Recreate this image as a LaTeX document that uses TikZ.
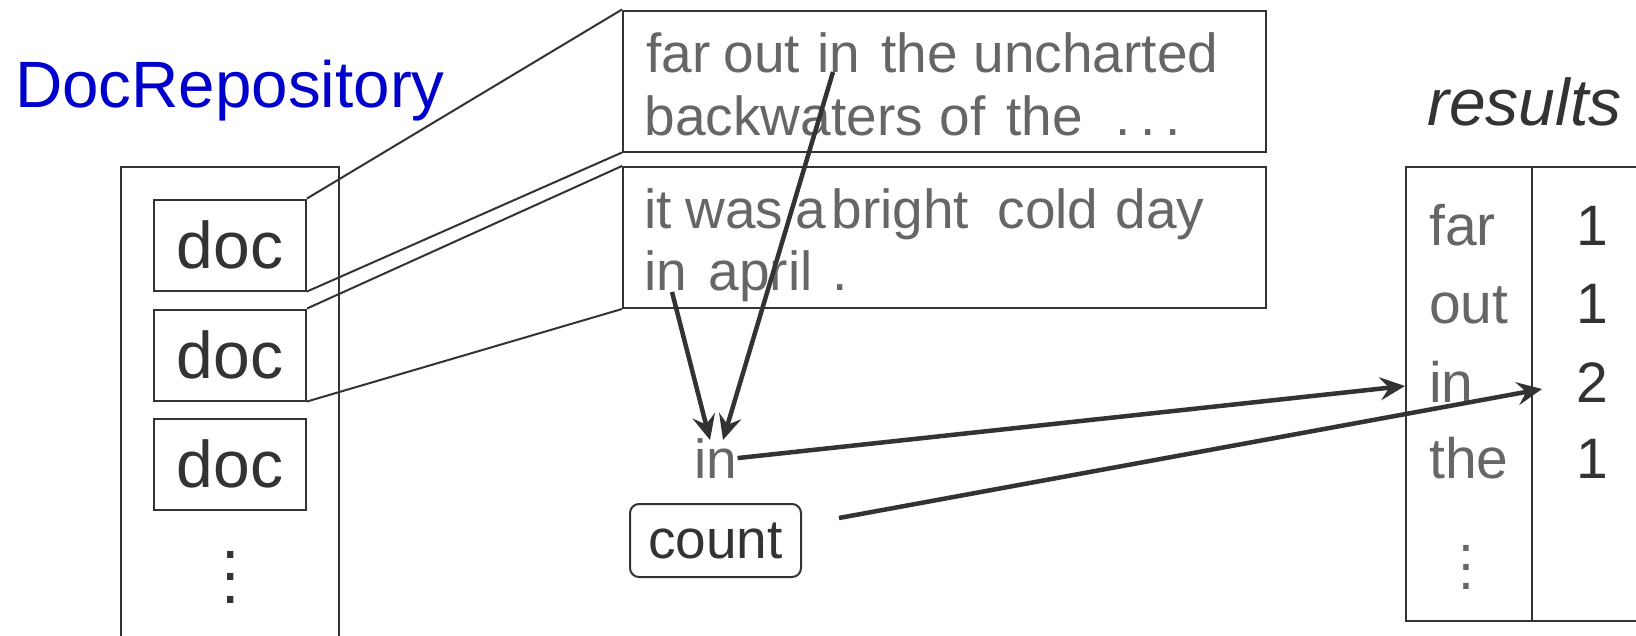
\documentclass[tikz,border=0pt]{standalone}
\usepackage{fontspec}
\setmainfont{Liberation Sans}
\usetikzlibrary{arrows.meta}
\definecolor{ink}{HTML}{333333}
\definecolor{txtgray}{HTML}{666666}
\definecolor{repoblue}{HTML}{0000CC}
\newcommand{\fs}[1]{\fontsize{#1pt}{#1pt}\selectfont}
\newcommand{\myvdots}[1]{\vbox{\baselineskip=#1pt\lineskiplimit=-100pt\hbox{.}\hbox{.}\hbox{.}}}
\newcommand{\wat}[2]{\makebox[0pt][l]{\hspace*{#1pt}#2}}
\begin{document}
\begin{tikzpicture}[x=1pt,y=-1pt,
  boxline/.style={draw=ink,line width=2pt},
  docbox/.style={boxline,minimum width=152pt,minimum height=91pt,inner sep=0pt,text=ink,font=\fs{66}},
  textbox/.style={boxline,minimum width=643pt,minimum height=141pt,inner sep=0pt,anchor=north west},
  doctext/.style={anchor=base west,inner sep=0pt,text=txtgray,font=\fs{55}},
  link/.style={draw=ink,line width=2pt},
  flow/.style={draw=ink,line width=4.5pt,-{Stealth[length=25pt,width=23pt,inset=9pt]}},
  word/.style={anchor=base west,inner sep=0pt,text=txtgray,font=\fs{57}},
  num/.style={anchor=base,inner sep=0pt,text=ink,font=\fs{57}}]
\useasboundingbox (0,0) rectangle (1636,635);
\clip (0,0) rectangle (1636,635);
% DocRepository
\node[anchor=base west,inner sep=0pt,text=repoblue,font=\fs{65.5}] (repolabel) at (15,107) {DocRepository};
\draw[boxline] (121,640) -- (121,167) -- (339,167) -- (339,640);
\node[docbox] (doc1) at (230,245) {doc};
\node[docbox] (doc2) at (230,355) {doc};
\node[docbox] (doc3) at (230,464) {doc};
\node[inner sep=0pt,text=ink,font=\fs{66}] (repodots) at (231,577) {\myvdots{22.5}};
% text boxes
\node[textbox] (tb1) at (622,9.5) {};
\node[textbox] (tb2) at (622,166) {};
\node[doctext] (t11) at (644,72) {\wat{2}{far}\wat{79}{out}\wat{173}{in}\wat{237}{the}\wat{329}{uncharted}};
\node[doctext] (t12) at (644,135) {\wat{0}{backwaters}\wat{295}{of}\wat{362}{the}\wat{471}{.}\wat{496}{.}\wat{521}{.}};
\node[doctext] (t21) at (644,228) {\wat{0}{it}\wat{41}{was}\wat{151}{a}\wat{187}{bright}\wat{353}{cold}\wat{471}{day}};
\node[doctext] (t22) at (644,290) {\wat{0}{in}\wat{64}{april}\wat{188}{.}};
\draw[link] (doc1.north east) -- (tb1.north west);
\draw[link] (doc1.south east) -- (tb1.south west);
\draw[link] (doc2.north east) -- (tb2.north west);
\draw[link] (doc2.south east) -- (tb2.south west);
% in / count
\node[anchor=base,inner sep=0pt,text=txtgray,font=\fs{55}] (inword) at (716,478) {in};
\node[draw=ink,line width=2pt,rounded corners=9pt,minimum width=171pt,minimum height=73pt,inner sep=0pt,text=ink,font=\fs{55}] (count) at (715.5,540.5) {count};
\coordinate (in1) at (833,72);
\coordinate (in2) at (672,292);
\coordinate (inA) at (710,440);
\coordinate (inB) at (723,440);
\draw[flow] (in2) -- (inA);
\draw[flow] (in1) -- (inB);
% results
\node[anchor=base west,inner sep=0pt,text=ink,font=\fs{66}\itshape] (reslabel) at (1427,125) {results};
\draw[boxline] (1645,167) -- (1406,167) -- (1406,621) -- (1645,621);
\draw[boxline] (1532,167) -- (1532,621);
\node[word] (wfar) at (1429,245) {far};
\node[word] (wout) at (1429,323) {out};
\node[word] (win) at (1429,402) {in};
\node[word] (wthe) at (1429,478) {the};
\node[inner sep=0pt,text=txtgray,font=\fs{57}] (resdots) at (1466,567) {\myvdots{19}};
\node[num] (nfar) at (1592,245) {1};
\node[num] (nout) at (1592,323) {1};
\node[num] (nin) at (1592,402) {2};
\node[num] (nthe) at (1592,478) {1};
\coordinate (wintip) at (1405,386);
\coordinate (nintip) at (1542,389);
\coordinate (countout) at (839,518);
\draw[flow] (inword.east) -- (wintip);
\draw[flow] (countout) -- (nintip);
\end{tikzpicture}
\end{document}
